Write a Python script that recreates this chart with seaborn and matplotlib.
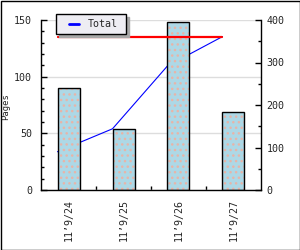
import numpy as np
import pandas as pd
import matplotlib
matplotlib.use("Agg")
import matplotlib.pyplot as plt
import seaborn as sns
from matplotlib.patches import Rectangle
from matplotlib.lines import Line2D
from matplotlib.legend_handler import HandlerLine2D
from matplotlib.offsetbox import DrawingArea
from matplotlib.ticker import MultipleLocator, FixedLocator

# ---- data ----
dates = ["11’9/24", "11’9/25", "11’9/26", "11’9/27"]
pages = [90, 54, 148, 69]
cumulative = [90, 144, 292, 361]
total = [361, 361]
series_label = "Total"
left_ticks = [0, 50, 100, 150]
right_ticks = [0, 100, 200, 300, 400]

FS = 7.2

sns.set_theme(style="white")
plt.rcParams["font.family"] = ["DejaVu Sans Mono", "DejaVu Sans"]
plt.rcParams["font.size"] = FS

fig = plt.figure(figsize=(3.0, 2.5), dpi=100)
fig.patch.set_facecolor("white")
ax = fig.add_axes([41 / 300, 1 - 190 / 250, 220 / 300, 170 / 250])
ax2 = ax.twinx()
ax.set_facecolor("white")

df = pd.DataFrame({"date": dates, "pages": pages})
# hatch layer (dots)
sns.barplot(data=df, x="date", y="pages", ax=ax, color="lightblue",
            saturation=1, width=0.4, edgecolor="#e8b4a8", linewidth=0,
            hatch="...", zorder=2)
# outline layer
sns.barplot(data=df, x="date", y="pages", ax=ax, color="none", fill=False,
            saturation=1, width=0.4, edgecolor="black", linewidth=1.0, zorder=3)
for p in ax.patches[:len(pages)]:
    p.set_hatch("...")
    p.set_edgecolor("#e8b4a8")
    p.set_linewidth(0)

xpos = np.arange(len(dates)) - 0.2
# blue cumulative line below bars (drawn in left axes, right-axis units)
sns.lineplot(x=xpos, y=cumulative, ax=ax, color="blue", linewidth=0.8,
             transform=ax2.transData, zorder=1.5, label=series_label,
             legend=False)
# red total line above bars
sns.lineplot(x=[xpos[0], xpos[-1]], y=total, ax=ax2, color="red",
             linewidth=1.6, zorder=5, legend=False)

ax.set_xlim(-0.5, len(dates) - 0.5)
ax2.set_xlim(-0.5, len(dates) - 0.5)
ax.set_ylim(0, 150)
ax2.set_ylim(0, 400)

ax.set_xlabel("")
ax.set_ylabel("Pages", fontsize=6.4)
ax.yaxis.set_label_coords(-0.14, 0.49)
ax2.set_ylabel("")

# grid
ax.yaxis.grid(True, color="#dddddd", linewidth=1, zorder=0)
ax.set_axisbelow(True)
ax.xaxis.grid(False)
ax2.grid(False)

# ticks
ax.yaxis.set_major_locator(FixedLocator(left_ticks))
ax.yaxis.set_minor_locator(MultipleLocator(10))
ax.tick_params(axis="y", which="major", direction="in", length=4, width=1,
               color="black", pad=6.5, labelsize=FS, left=True)
ax.tick_params(axis="y", which="minor", direction="in", length=2.5, width=1,
               color="black", left=True)
ax.set_xticks(range(len(dates)))
ax.set_xticklabels(dates, rotation=90, fontsize=FS)
ax.xaxis.set_minor_locator(FixedLocator([0.5, 1.5, 2.5]))
ax.tick_params(axis="x", which="major", length=0, pad=6.5)
ax.tick_params(axis="x", which="minor", direction="in", length=3, width=1,
               color="black", bottom=True)

ax2.yaxis.set_major_locator(FixedLocator(right_ticks))
ax2.yaxis.set_minor_locator(MultipleLocator(50))
ax2.tick_params(axis="y", which="major", direction="in", length=4, width=1,
                color="black", pad=4, labelsize=FS, right=True)
ax2.tick_params(axis="y", which="minor", direction="in", length=2.5, width=1,
                color="black", right=True)

for a in (ax, ax2):
    a.spines["top"].set_visible(False)
    for s in ("left", "right", "bottom"):
        a.spines[s].set_color("black")
        a.spines[s].set_linewidth(1)
ax.spines["right"].set_visible(False)
ax2.spines["left"].set_visible(False)
ax2.spines["bottom"].set_visible(False)

# legend
handles, labels = ax.get_legend_handles_labels()
leg = ax2.legend(handles, labels, loc="upper left",
                 bbox_to_anchor=(56 / 300, 1 - 14 / 250),
                 bbox_transform=fig.transFigure, borderaxespad=0,
                 frameon=True, fancybox=False,
                 shadow={"color": "#a8a8a8", "alpha": 1}, framealpha=1,
                 facecolor="#eeedf3", edgecolor="black", fontsize=FS,
                 handlelength=1.8, handletextpad=0.9, borderpad=0.5,
                 handler_map={Line2D: HandlerLine2D(xpad=0.8)})
leg.get_frame().set_linewidth(1)
for ln in leg.get_lines():
    ln.set_linewidth(2)
# slight extra right padding inside the legend box
try:
    for col in leg._legend_handle_box.get_children():
        for item in col.get_children():
            item.get_children().append(DrawingArea(-4, 0))
except Exception:
    pass

# figure border
fig.patches.append(Rectangle((0.5 / 300, 0.5 / 250), 299 / 300, 249 / 250,
                             transform=fig.transFigure, fill=False,
                             edgecolor="black", linewidth=1))

fig.savefig("out.png", dpi=100, facecolor="white")
